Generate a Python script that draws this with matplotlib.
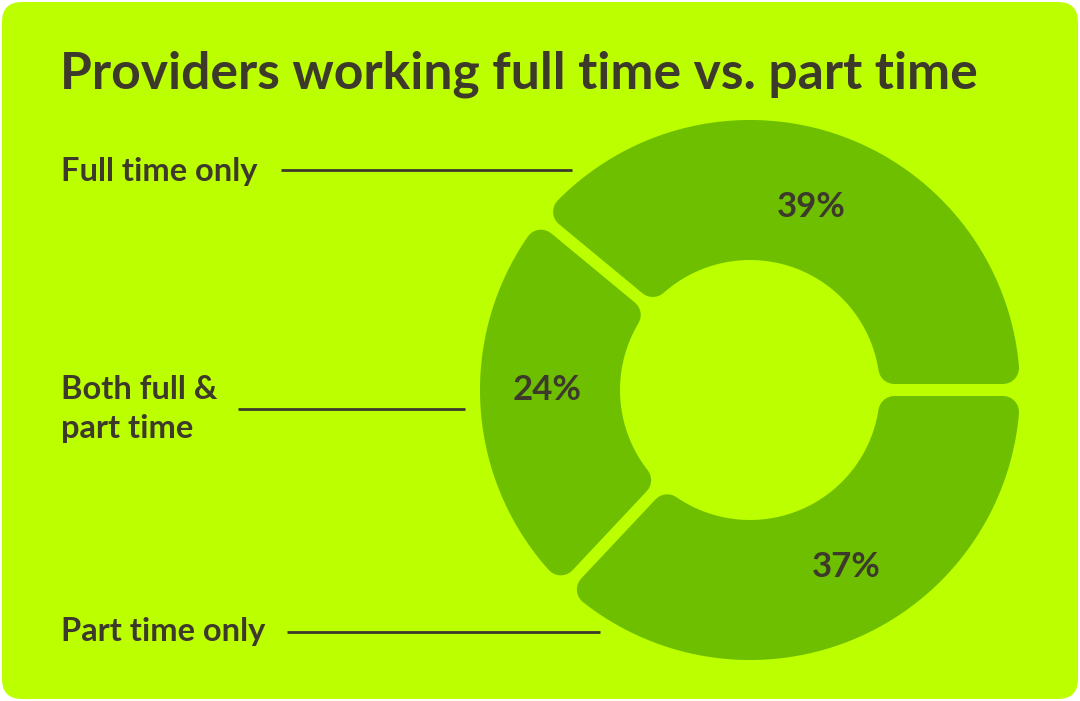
import numpy as np
import matplotlib.pyplot as plt
from matplotlib.patches import Polygon, FancyBboxPatch

# shares of providers, counter-clockwise from 3 o'clock
categories = ['Full time only', 'Both full &\npart time', 'Part time only']
shares = [39, 24, 37]
pct_labels = ['39%', '24%', '37%']

BG = '#bcff00'
SEG = '#6dbf00'
INK = '#3d3a2c'

W, H = 1080, 701
fig = plt.figure(figsize=(W / 100, H / 100), dpi=100)
fig.patch.set_facecolor('white')
ax = fig.add_axes([0, 0, 1, 1])
ax.set_xlim(0, W)
ax.set_ylim(0, H)
ax.axis('off')

# card
ax.add_patch(FancyBboxPatch((2, 2), W - 4, H - 4,
                            boxstyle='round,pad=0,rounding_size=20',
                            fc=BG, ec='none'))

cx, cy = 750, H - 390
R, r = 270, 130
gap = 12
corner = 16


def ring_segment(a1, a2):
    # inset segment outline; a thick round-joined stroke puts the corners back
    ro, ri = R - corner, r + corner
    d = gap / 2 + corner
    t_out = np.linspace(a1 + np.arcsin(d / ro), a2 - np.arcsin(d / ro), 120)
    t_in = np.linspace(a2 - np.arcsin(d / ri), a1 + np.arcsin(d / ri), 60)
    xs = np.concatenate([cx + ro * np.cos(t_out), cx + ri * np.cos(t_in)])
    ys = np.concatenate([cy + ro * np.sin(t_out), cy + ri * np.sin(t_in)])
    return np.column_stack([xs, ys])


start = 0.0
for s in shares:
    a1 = np.radians(start)
    a2 = np.radians(start + s * 3.6)
    pts = ring_segment(a1, a2)
    ax.add_patch(Polygon(pts, closed=True, fc=SEG, ec=SEG,
                         lw=2 * corner * 0.72, joinstyle='round'))
    start += s * 3.6

# percentage labels inside the ring
label_pos = [(811, 207), (547, 390), (846, 567)]
for txt, (x, y) in zip(pct_labels, label_pos):
    ax.text(x, H - y, txt, fontsize=25, fontfamily='Lato', fontweight='bold',
            color=INK, ha='center', va='center')

ax.text(60, H - 74, 'Providers working full time vs. part time', fontsize=37.2,
        fontfamily='Lato', fontweight='bold', color=INK, ha='left', va='center')

# category labels with leader lines
cat_pos = [(61, 172), (61, 409), (61, 631)]
lines = [(281, 572, 170), (238, 465, 409), (287, 600, 632)]
for name, (x, y), (x0, x1, ly) in zip(categories, cat_pos, lines):
    ax.text(x, H - y, name, fontsize=23.5, fontfamily='Lato', fontweight='bold',
            color=INK, ha='left', va='center', linespacing=1.45)
    ax.plot([x0, x1], [H - ly, H - ly], color=INK, lw=2, solid_capstyle='butt')

fig.savefig('out.png', dpi=100, facecolor='white')
